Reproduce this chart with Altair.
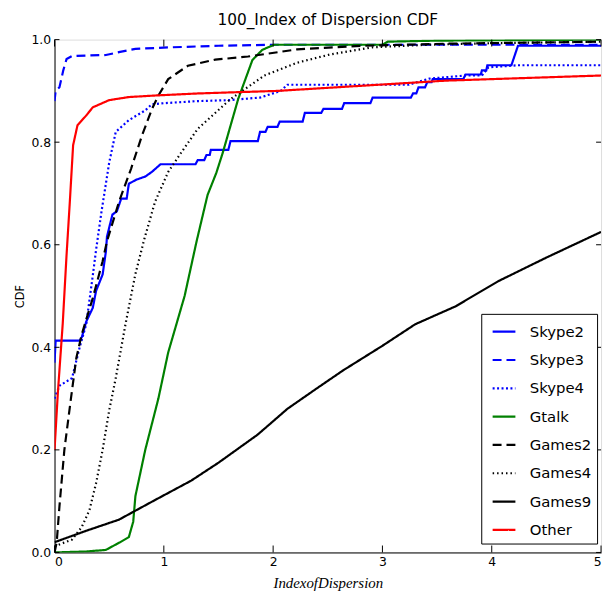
import altair as alt
import pandas as pd

series = ["Skype2", "Skype3", "Skype4", "Gtalk", "Games2", "Games4", "Games9", "Other"]
colors = ["#0000ff", "#0000ff", "#0000ff", "#008000", "#000000", "#000000", "#000000", "#ff0000"]
dashes = [[1, 0], [9, 5], [2, 2.5], [1, 0], [9, 5], [1.5, 3], [1, 0], [1, 0]]
widths = [2.2, 2.2, 2, 2, 2.2, 1.5, 2.2, 2.2]

skype2_x = [0, 0.01, 0.23, 0.25, 0.29, 0.35, 0.38, 0.44, 0.47, 0.48, 0.53, 0.57, 0.61, 0.66, 0.68,
            0.75, 0.83, 0.89, 0.97, 1.29, 1.31, 1.37, 1.39, 1.42, 1.43, 1.59, 1.61, 1.86, 1.88, 1.93,
            1.95, 2.04, 2.06, 2.27, 2.29, 2.44, 2.46, 2.63, 2.65, 2.89, 2.91, 3.26, 3.28, 3.31, 3.33,
            3.39, 3.41, 3.45, 3.46, 3.74, 3.76, 3.9, 3.91, 3.95, 3.96, 4.18, 4.24, 5.0]
skype2_y = [0.37, 0.413, 0.413, 0.42, 0.45, 0.477, 0.51, 0.542, 0.587, 0.616, 0.659, 0.665, 0.69, 0.69,
            0.719, 0.727, 0.733, 0.742, 0.757, 0.757, 0.765, 0.765, 0.775, 0.775, 0.785, 0.785, 0.802,
            0.802, 0.82, 0.82, 0.83, 0.83, 0.84, 0.84, 0.857, 0.857, 0.865, 0.865, 0.876, 0.876, 0.887,
            0.887, 0.895, 0.895, 0.907, 0.907, 0.917, 0.917, 0.923, 0.923, 0.932, 0.932, 0.94, 0.94,
            0.95, 0.95, 0.988, 0.988]

skype3_x = [0, 0.01, 0.045, 0.08, 0.11, 0.16, 0.3, 0.47, 0.6, 0.74, 1.07, 1.5, 2.0, 3.0, 4.0, 5.0]
skype3_y = [0.88, 0.9, 0.907, 0.94, 0.962, 0.968, 0.969, 0.97, 0.976, 0.982, 0.985, 0.988, 0.99, 0.99, 0.99, 0.99]

skype4_x = [0, 0.045, 0.16, 0.23, 0.29, 0.35, 0.38, 0.43, 0.5, 0.56, 0.68, 0.83, 0.89, 1.0, 1.3, 1.6,
            1.88, 2.07, 2.13, 3.24, 3.43, 3.76, 3.91, 3.97, 4.24, 5.0]
skype4_y = [0.3, 0.325, 0.34, 0.40, 0.445, 0.54, 0.59, 0.665, 0.76, 0.82, 0.843, 0.862, 0.874, 0.876,
            0.88, 0.882, 0.887, 0.9, 0.912, 0.912, 0.924, 0.93, 0.93, 0.946, 0.95, 0.95]

gtalk_x = [0, 0.3, 0.47, 0.6, 0.68, 0.72, 0.74, 0.83, 0.95, 1.04, 1.19, 1.3, 1.4, 1.48, 1.54, 1.68,
           1.81, 1.9, 2.01, 3.0, 3.05, 3.5, 5.0]
gtalk_y = [0, 0.002, 0.005, 0.02, 0.03, 0.06, 0.11, 0.2, 0.3, 0.39, 0.5, 0.607, 0.697, 0.74, 0.78,
           0.884, 0.96, 0.98, 0.99, 0.99, 0.996, 0.998, 1.0]

games2_x = [0, 0.02, 0.045, 0.09, 0.15, 0.2, 0.25, 0.35, 0.44, 0.48, 0.59, 0.7, 0.8, 0.89, 0.95, 1.04,
            1.22, 1.47, 1.77, 2.22, 2.83, 3.58, 5.0]
games2_y = [0.0, 0.02, 0.09, 0.2, 0.30, 0.38, 0.426, 0.496, 0.568, 0.607, 0.684, 0.748, 0.813, 0.864,
            0.891, 0.923, 0.949, 0.961, 0.967, 0.981, 0.988, 0.992, 0.996]

games4_x = [0, 0.16, 0.25, 0.32, 0.38, 0.44, 0.5, 0.56, 0.65, 0.74, 0.82, 0.92, 1.04, 1.16, 1.31, 1.61,
            1.92, 2.22, 2.52, 2.91, 3.42, 4.0, 5.0]
games4_y = [0.012, 0.025, 0.05, 0.083, 0.135, 0.2, 0.277, 0.34, 0.446, 0.543, 0.61, 0.684, 0.742, 0.78,
            0.826, 0.884, 0.93, 0.955, 0.971, 0.985, 0.99, 0.993, 0.996]

games9_x = [0, 0.3, 0.59, 0.9, 1.25, 1.5, 1.86, 2.13, 2.4, 2.64, 3.0, 3.3, 3.67, 4.06, 4.5, 5.0]
games9_y = [0.02, 0.043, 0.064, 0.1, 0.14, 0.175, 0.23, 0.28, 0.32, 0.355, 0.403, 0.445, 0.48, 0.529,
            0.575, 0.625]

other_x = [0, 0.03, 0.075, 0.11, 0.14, 0.17, 0.21, 0.29, 0.35, 0.5, 0.68, 0.92, 1.31, 2.04, 2.58, 3.58, 5.0]
other_y = [0.2, 0.31, 0.446, 0.58, 0.684, 0.794, 0.833, 0.852, 0.868, 0.882, 0.888, 0.891, 0.895, 0.9,
           0.907, 0.92, 0.93]

x_ticks = [0, 1, 2, 3, 4, 5]
y_ticks = [0.0, 0.2, 0.4, 0.6, 0.8, 1.0]

all_x = [skype2_x, skype3_x, skype4_x, gtalk_x, games2_x, games4_x, games9_x, other_x]
all_y = [skype2_y, skype3_y, skype4_y, gtalk_y, games2_y, games4_y, games9_y, other_y]

rows = []
for name, xs, ys in zip(series, all_x, all_y):
    for i, (xv, yv) in enumerate(zip(xs, ys)):
        rows.append({"series": name, "x": xv, "y": yv, "i": i})
df = pd.DataFrame(rows)

W, H = 552, 518
SANS = "DejaVu Sans"

xscale = alt.Scale(domain=[0, 5], nice=False, zero=False)
yscale = alt.Scale(domain=[0, 1], nice=False, zero=False)

legend = alt.Legend(
    title=None, orient="none", legendX=431, legendY=277, strokeColor="black",
    fillColor="white", padding=5, symbolType="stroke", symbolSize=529, symbolStrokeWidth=2.5,
    labelFont=SANS, labelFontSize=15, labelOffset=13, rowPadding=7.6, symbolOffset=5,
    labelColor="black", cornerRadius=0,
)

lines = alt.Chart(df).mark_line(clip=True, strokeCap="butt").encode(
    x=alt.X("x:Q", scale=xscale,
            axis=alt.Axis(values=x_ticks, format="d", title="IndexofDispersion", ticks=False,
                          labelPadding=3, titlePadding=8, titleFont="Liberation Serif",
                          titleFontStyle="italic", titleFontWeight="normal", titleFontSize=15,
                          labelFont=SANS, labelFontSize=12.5, domainColor="black",
                          labelColor="black", titleColor="black", grid=False)),
    y=alt.Y("y:Q", scale=yscale,
            axis=alt.Axis(values=y_ticks, format=".1f", title="CDF", ticks=False,
                          labelPadding=4, titlePadding=5, titleFont=SANS, titleFontSize=11.5,
                          titleFontWeight="normal", labelFont=SANS, labelFontSize=12.5,
                          domainColor="black", labelColor="black", titleColor="black", grid=False)),
    color=alt.Color("series:N", scale=alt.Scale(domain=series, range=colors), legend=legend),
    strokeDash=alt.StrokeDash("series:N", scale=alt.Scale(domain=series, range=dashes), legend=legend),
    strokeWidth=alt.StrokeWidth("series:N", scale=alt.Scale(domain=series, range=widths), legend=None),
    order=alt.Order("i:Q"),
)

xt = pd.DataFrame({"v": x_ticks})
yt = pd.DataFrame({"v": y_ticks})
tick_bottom = alt.Chart(xt).mark_rule(color="black", strokeWidth=1).encode(
    x=alt.X("v:Q", scale=xscale), y=alt.value(H), y2=alt.value(H - 7))
tick_top = alt.Chart(xt).mark_rule(color="black", strokeWidth=1).encode(
    x=alt.X("v:Q", scale=xscale), y=alt.value(0), y2=alt.value(7))
tick_left = alt.Chart(yt).mark_rule(color="black", strokeWidth=1).encode(
    y=alt.Y("v:Q", scale=yscale), x=alt.value(0), x2=alt.value(5))
tick_right = alt.Chart(yt).mark_rule(color="black", strokeWidth=1).encode(
    y=alt.Y("v:Q", scale=yscale), x=alt.value(W), x2=alt.value(W - 5))

chart = alt.layer(lines, tick_bottom, tick_top, tick_left, tick_right).properties(
    width=W, height=H,
    title=alt.TitleParams("100_Index of Dispersion CDF", font=SANS, fontSize=15.5,
                          fontWeight="normal", color="black", offset=5),
    autosize=alt.AutoSizeParams(type="none"),
    padding={"left": 47, "top": 29, "right": 4, "bottom": 36},
).configure_view(stroke="black", strokeWidth=1).configure(background="white")

chart.save("out.html", embed_options={"renderer": "svg", "actions": False})
